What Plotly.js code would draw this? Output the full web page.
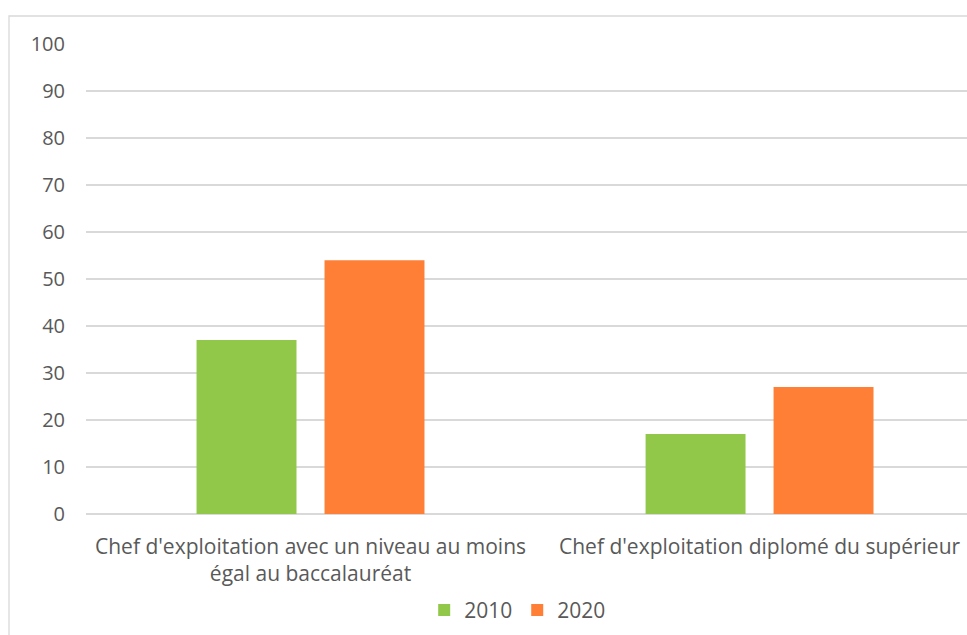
<!DOCTYPE html>
<html>
<head>
<meta charset="utf-8">
<script src="https://cdn.plot.ly/plotly-3.0.1.min.js"></script>
<style>html,body{margin:0;padding:0;background:#fff;}#chart{width:967px;height:635px;}</style>
</head>
<body>
<div id="chart"></div>
<script>
const categories = ["Chef d'exploitation avec un niveau au moins<br>égal au baccalauréat", "Chef d'exploitation diplomé du supérieur"];
const seriesNames = ["2010", "2020"];
const values2010 = [37, 17];
const values2020 = [54, 27];
const yTicks = [0, 10, 20, 30, 40, 50, 60, 70, 80, 90, 100];

const font = {family: "'Open Sans', sans-serif", size: 21, color: "#595959"};
const yfont = {family: "'Open Sans', sans-serif", size: 20, color: "#595959"};
const traces = [
  {type: "bar", name: seriesNames[0], x: categories, y: values2010, marker: {color: "#92C84A"}},
  {type: "bar", name: seriesNames[1], x: categories, y: values2020, marker: {color: "#FE7F35"}}
];
const layout = {
  width: 967, height: 635,
  margin: {l: 86, r: 0, t: 44, b: 121, autoexpand: false},
  paper_bgcolor: "#fff", plot_bgcolor: "#fff",
  font: font,
  barmode: "group", bargap: 0.43, bargroupgap: 0.219,
  showlegend: true,
  legend: {orientation: "h", x: 0.49, xanchor: "center", y: -0.205, yanchor: "middle", font: font, itemwidth: 30, tracegroupgap: 0},
  xaxis: {type: "category", range: [-0.5, 1.462], showgrid: false, zeroline: false, showline: false, ticks: "", tickfont: font, ticklabelstandoff: 18, automargin: false, fixedrange: true},
  yaxis: {range: [0, 100], tickvals: yTicks, showgrid: true, gridcolor: "#D9D9D9", gridwidth: 1.3, zeroline: true, zerolinecolor: "#D9D9D9", zerolinewidth: 1.3, showline: false, ticks: "", tickfont: yfont, ticklabelstandoff: 20, automargin: false},
  shapes: [{type: "rect", xref: "paper", yref: "paper", x0: -0.0874, x1: 1.2, y0: -0.4, y1: 1.0596, line: {color: "#D9D9D9", width: 1.3}, fillcolor: "rgba(0,0,0,0)", layer: "below"}]
};
Plotly.newPlot("chart", traces, layout, {displayModeBar: false, staticPlot: true});
</script>
</body>
</html>
